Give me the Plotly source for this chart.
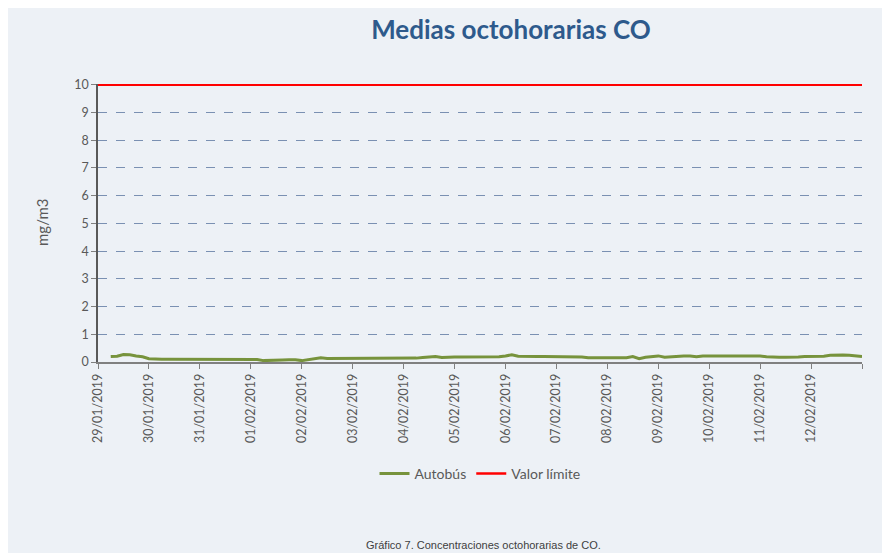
import pandas as pd
import plotly.graph_objects as go

# ---- data ----
series_start = "2019-01-29 06:00"
step_hours = 3
autobus_values = [
    # 29/01 (from 06h)
    0.20, 0.21, 0.27, 0.26, 0.22, 0.19,
    # 30/01
    0.12, 0.10, 0.10, 0.10, 0.10, 0.10, 0.10, 0.10,
    # 31/01
    0.10, 0.10, 0.10, 0.10, 0.10, 0.10, 0.10, 0.10,
    # 01/02
    0.10, 0.09, 0.05, 0.05, 0.05, 0.07, 0.08, 0.08,
    # 02/02
    0.05, 0.08, 0.12, 0.15, 0.13, 0.13, 0.13, 0.13,
    # 03/02
    0.13, 0.13, 0.13, 0.13, 0.13, 0.13, 0.13, 0.13,
    # 04/02
    0.13, 0.13, 0.14, 0.16, 0.17, 0.20, 0.16, 0.18,
    # 05/02
    0.18, 0.18, 0.18, 0.18, 0.18, 0.18, 0.18, 0.19,
    # 06/02
    0.22, 0.26, 0.21, 0.20, 0.20, 0.20, 0.20, 0.20,
    # 07/02
    0.20, 0.20, 0.20, 0.20, 0.18, 0.15, 0.15, 0.15,
    # 08/02
    0.15, 0.15, 0.15, 0.15, 0.20, 0.12, 0.17, 0.20,
    # 09/02
    0.22, 0.17, 0.19, 0.22, 0.22, 0.22, 0.19, 0.22,
    # 10/02
    0.22, 0.22, 0.22, 0.22, 0.22, 0.22, 0.22, 0.22,
    # 11/02
    0.22, 0.19, 0.17, 0.17, 0.17, 0.17, 0.18, 0.20,
    # 12/02
    0.20, 0.20, 0.21, 0.24, 0.25, 0.25, 0.24, 0.21,
    # 13/02 00h
    0.20,
]
limit_dates = ["2019-01-29 00:00", "2019-02-13 00:00"]
limit_values = [10, 10]
tick_dates = list(pd.date_range("2019-01-29", "2019-02-13", freq="D"))
tick_labels = [d.strftime("%d/%m/%Y") for d in tick_dates[:-1]] + [""]
y_ticks = list(range(0, 11))

times = pd.date_range(series_start, periods=len(autobus_values), freq=f"{step_hours}h")

BG = "#EDF1F6"
TXT = "#595959"
FONT = "Lato"

fig = go.Figure()
fig.add_trace(go.Scatter(x=times, y=autobus_values, mode="lines", name="Autobús",
                         line=dict(color="#77933C", width=3)))
fig.add_trace(go.Scatter(x=pd.to_datetime(limit_dates), y=limit_values, mode="lines",
                         name="Valor límite", line=dict(color="#FF0000", width=2.5)))

OFF = 8  # page offset of the figure (body margin)
W, H = 890, 553
L = 98 - OFF
T = 84 - OFF
R = W - (862 - OFF)
B = H - (362 - OFF)
pw, ph = W - L - R, H - T - B

def px_x(px):  # page px -> paper
    return (px - OFF - L) / pw

def px_y(py):
    return (H - B - (py - OFF)) / ph

fig.update_layout(
    width=W, height=H,
    margin=dict(l=L, r=R, t=T, b=B),
    paper_bgcolor=BG, plot_bgcolor=BG,
    font=dict(family=FONT, color=TXT, size=12),
    title=dict(text="<b>Medias octohorarias CO</b>", x=(511 - OFF) / W, xanchor="center",
               y=1 - (30 - OFF) / H, yanchor="middle",
               font=dict(family=FONT, size=26, color="#2E5A8C")),
    showlegend=True,
    legend=dict(orientation="h", x=0.5, xanchor="center", y=px_y(474), yanchor="middle",
                font=dict(family=FONT, size=14, color=TXT), bgcolor="rgba(0,0,0,0)",
                tracegroupgap=0),
    xaxis=dict(
        range=[tick_dates[0], tick_dates[-1]],
        tickmode="array", tickvals=tick_dates, ticktext=tick_labels,
        tickangle=-90, ticks="outside", ticklen=5, tickcolor="#808080",
        showline=True, linecolor="#808080", linewidth=1.5,
        showgrid=False, zeroline=False,
        tickfont=dict(family=FONT, size=12.5, color=TXT),
    ),
    yaxis=dict(
        range=[0, 10.03], tickmode="array", tickvals=y_ticks,
        ticks="outside", ticklen=5, tickcolor="#808080",
        showline=True, linecolor="#595959", linewidth=1.5,
        showgrid=True, gridcolor="#7A90B2", griddash="dash", gridwidth=1,
        zeroline=False,
        tickfont=dict(family=FONT, size=12.5, color=TXT),
    ),
    annotations=[
        dict(text="mg/m3", xref="paper", yref="paper", x=px_x(42), y=px_y(222),
             textangle=-90, showarrow=False, xanchor="center", yanchor="middle",
             font=dict(family=FONT, size=15, color=TXT)),
        dict(text="Gráfico 7. Concentraciones octohorarias de CO.", xref="paper", yref="paper",
             x=px_x(484), y=px_y(545), showarrow=False, xanchor="center", yanchor="middle",
             font=dict(family="Liberation Sans", size=11, color="#404040")),
    ],
)

fig.write_html("out.html")
